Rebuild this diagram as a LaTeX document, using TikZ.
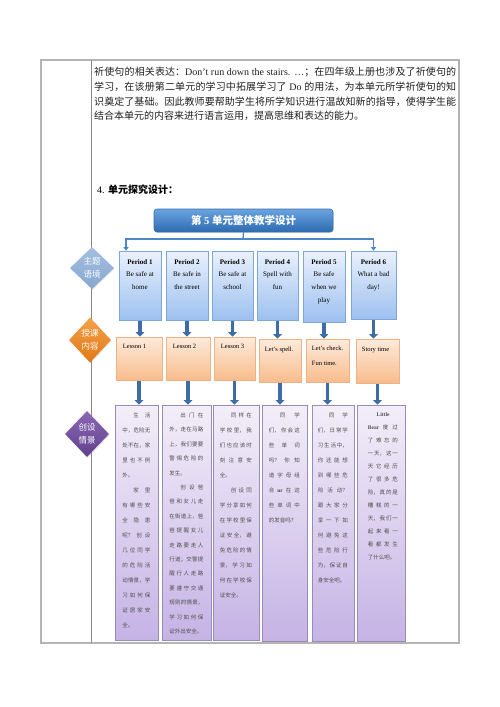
\documentclass[tikz,border=0pt]{standalone}
\usepackage{fontspec}
\setmainfont{Liberation Serif}
\newfontfamily\cjk{Noto Sans CJK SC}
\usetikzlibrary{arrows.meta,shapes.geometric,shadows}
\XeTeXlinebreaklocale "zh"
\XeTeXlinebreakskip=0pt plus 1pt
\setlength\parindent{0pt}
\definecolor{tblc}{HTML}{B4B4B4}
\definecolor{divc}{HTML}{8A8A8A}
\definecolor{tttop}{HTML}{6AA4E0}
\definecolor{ttbot}{HTML}{2D6AB0}
\definecolor{ttedge}{HTML}{3A6EA8}
\definecolor{connc}{HTML}{4A86C8}
\definecolor{ptop}{HTML}{EAF1FC}
\definecolor{pbot}{HTML}{9DC0F0}
\definecolor{pedge}{HTML}{7FA6D6}
\definecolor{ltop}{HTML}{FDEBDC}
\definecolor{lbot}{HTML}{F8BC8C}
\definecolor{ledge}{HTML}{EDB285}
\definecolor{btop}{HTML}{F3EEF9}
\definecolor{bbot}{HTML}{C5B3E5}
\definecolor{bedge}{HTML}{9A8CB8}
\definecolor{arrc}{HTML}{3D6CA6}
\definecolor{dAt}{HTML}{A3BFE0}
\definecolor{dAb}{HTML}{86A7D0}
\definecolor{dBt}{HTML}{F5A24A}
\definecolor{dBb}{HTML}{E07816}
\definecolor{dCt}{HTML}{8A68B6}
\definecolor{dCb}{HTML}{60408E}
\definecolor{btxt}{HTML}{4E4E4E}
\newcommand\zbox[6]{\node[#2, minimum width={#5-#3}, minimum height={#6-#4}] (#1) at ({(#3+#5)/2},{(#4+#6)/2}) {};}
\newcommand\lbk{\linebreak}
\begin{document}
\begin{tikzpicture}[x=1pt,y=-1pt,
  tbl/.style={draw=tblc,line width=1.3pt},
  divline/.style={draw=divc,line width=0.6pt},
  shd/.style={drop shadow={shadow xshift=0.7pt,shadow yshift=-0.9pt,opacity=0.22}},
  titlebox/.style={draw=ttedge,line width=0.6pt,rounded corners=3pt,top color=tttop,bottom color=ttbot,inner sep=0,shd},
  pbox/.style={draw=pedge,line width=0.6pt,top color=ptop,bottom color=pbot,inner sep=0,shd},
  lbox/.style={draw=ledge,line width=0.6pt,top color=ltop,bottom color=lbot,inner sep=0,shd},
  bbox/.style={draw=bedge,line width=0.6pt,top color=btop,bottom color=bbot,inner sep=0,shd},
  ptext/.style={anchor=north,inner sep=0,align=center,font=\fontsize{7}{12.6}\selectfont},
  ltext/.style={anchor=north west,inner sep=0,align=left,font=\fontsize{6.5}{15}\selectfont},
  btext/.style={anchor=north west,inner sep=0,align=justify,text=btxt,font=\cjk\fontsize{5.5}{15}\selectfont},
  blk/.style={draw=arrc,line width=3.6pt,-{Triangle[width=8.5pt,length=4.5pt]},shorten <=1pt},
  conn/.style={draw=connc,line width=1.3pt,-{Triangle[width=5pt,length=3.5pt]}},
  connline/.style={draw=connc,line width=1.3pt},
  dia/.style={diamond,inner sep=0,shd},
  dtext/.style={inner sep=0,align=center,text=white,font=\cjk\fontsize{8.5}{13}\selectfont}
]
\useasboundingbox (0,0) rectangle (500,707);
% table
\draw[tbl] (41,60) rectangle (459,643);
\draw[divline] (91,60) -- (91,643);
% paragraph
\node[anchor=north west,inner sep=0,text width=362pt,align=justify,text=black!88,font=\fontsize{10}{14.7}\selectfont] (para) at (94,67.2)
{{\cjk 祈使句的相关表达：}Don't run down the stairs. …{\cjk ；在四年级上册也涉及了祈使句的}\lbk
{\cjk 学习，在该册第二单元的学习中拓展学习了} Do {\cjk 的用法，为本单元所学祈使句的知}\lbk
{\cjk 识奠定了基础。因此教师要帮助学生将所学知识进行温故知新的指导，使得学生能}\lbk
{\cjk 结合本单元的内容来进行语言运用，提高思维和表达的能力。}};
\node[anchor=base west,inner sep=0,font=\fontsize{10}{12}\selectfont] (head) at (97,193) {4. {\cjk\bfseries 单元探究设计：}};
% title
\zbox{title}{titlebox}{154}{209}{333}{232}
\node[inner sep=0,text=white,font=\fontsize{10.5}{12}\selectfont] (ttext) at (title) {{\cjk\bfseries 第} \textbf{5} {\cjk\bfseries 单元整体教学设计}};
% periods
\zbox{p1}{pbox}{119}{251}{161}{320}
\zbox{p2}{pbox}{166}{251}{208}{320}
\zbox{p3}{pbox}{212}{251}{253}{320}
\zbox{p4}{pbox}{257}{251}{298}{320}
\zbox{p5}{pbox}{303}{251}{345}{322}
\zbox{p6}{pbox}{351}{251}{396}{319}
\node[ptext] (pt1) at ([yshift=-8.5pt]p1.north) {\textbf{Period 1}\\Be safe at\\home};
\node[ptext] (pt2) at ([yshift=-8.5pt]p2.north) {\textbf{Period 2}\\Be safe in\\the street};
\node[ptext] (pt3) at ([yshift=-8.5pt]p3.north) {\textbf{Period 3}\\Be safe at\\school};
\node[ptext] (pt4) at ([yshift=-8.5pt]p4.north) {\textbf{Period 4}\\Spell with\\fun};
\node[ptext] (pt5) at ([yshift=-8.5pt]p5.north) {\textbf{Period 5}\\Be safe\\when we\\play};
\node[ptext] (pt6) at ([yshift=-8.5pt]p6.north) {\textbf{Period 6}\\What a bad\\day!};
% connectors from title
\coordinate (hub) at (243,239);
\draw[connline] (title.south) -- (hub);
\draw[conn] (hub) -| ([xshift=-14pt]p1.north);
\draw[conn] (hub) -| (p6.north);
% lessons
\zbox{l1}{lbox}{116}{337}{162}{380}
\zbox{l2}{lbox}{166}{337}{210}{380}
\zbox{l3}{lbox}{214}{337}{255}{380}
\zbox{l4}{lbox}{259}{339}{301}{382}
\zbox{l5}{lbox}{306}{339}{349}{382}
\zbox{l6}{lbox}{356}{339}{399}{383}
\node[ltext] (lt1) at ([xshift=7pt,yshift=-7.5pt]l1.north west) {Lesson 1};
\node[ltext] (lt2) at ([xshift=7pt,yshift=-7.5pt]l2.north west) {Lesson 2};
\node[ltext] (lt3) at ([xshift=7pt,yshift=-7.5pt]l3.north west) {Lesson 3};
\node[ltext] (lt4) at ([xshift=6pt,yshift=-8.5pt]l4.north west) {Let's spell.};
\node[ltext] (lt5) at ([xshift=6pt,yshift=-7pt]l5.north west) {Let's check.\\Fun time.};
\node[ltext] (lt6) at ([xshift=6pt,yshift=-8.5pt]l6.north west) {Story time};
% purple boxes
\zbox{b1}{bbox}{115}{405}{158}{640}
\zbox{b2}{bbox}{162}{405}{211}{640}
\zbox{b3}{bbox}{213}{405}{259}{640}
\zbox{b4}{bbox}{262}{405}{307}{641}
\zbox{b5}{bbox}{312}{405}{354}{641}
\zbox{b6}{bbox}{357}{405}{405}{641}
\node[btext,text width=28pt] (bt1) at ([xshift=7.5pt,yshift=-8pt]b1.north west)
{\hspace*{2em}生活\lbk
中，危险无\lbk
处不在，家\lbk
里也不例\lbk
外。\par
\hspace*{2em}家里\lbk
有哪些安\lbk
全隐患\lbk
呢？创设\lbk
几位同学\lbk
的危险活\lbk
动情景，学\lbk
习如何保\lbk
证居家安\lbk
全。};
\node[btext,text width=34pt,font=\cjk\fontsize{5.5}{14.4}\selectfont] (bt2) at ([xshift=7.5pt,yshift=-8pt]b2.north west)
{\hspace*{2em}出门在\lbk
外，走在马路\lbk
上，我们要要\lbk
警惕危险的\lbk
发生。\par
\hspace*{2em}创设爸\lbk
爸和女儿走\lbk
在街道上，爸\lbk
爸提醒女儿\lbk
走路要走人\lbk
行道；交警提\lbk
醒行人走路\lbk
要遵守交通\lbk
规则的情景，\lbk
学习如何保\lbk
证外出安全。};
\node[btext,text width=32pt] (bt3) at ([xshift=7pt,yshift=-8pt]b3.north west)
{\hspace*{2em}同样在\lbk
学校里，我\lbk
们也应该时\lbk
刻注意安\lbk
全。\par
\hspace*{2em}创设同\lbk
学分享如何\lbk
在学校里保\lbk
证安全，避\lbk
免危险的情\lbk
景，学习如\lbk
何在学校保\lbk
证安全。};
\node[btext,text width=31pt] (bt4) at ([xshift=7pt,yshift=-8pt]b4.north west)
{\hspace*{2em}同学\lbk
们，你会这\lbk
些单词\lbk
吗？你知\lbk
道字母组\lbk
合 {\rmfamily\bfseries ur} 在这\lbk
些单词中\lbk
的发音吗？};
\node[btext,text width=30pt] (bt5) at ([xshift=6pt,yshift=-8pt]b5.north west)
{\hspace*{2em}同学\lbk
们，日常学\lbk
习生活中，\lbk
你还能想\lbk
到哪些危\lbk
险活动？\lbk
跟大家分\lbk
享一下如\lbk
何避免这\lbk
些危险行\lbk
为，保证自\lbk
身安全吧。};
\node[btext,text width=30pt,font=\cjk\fontsize{5.5}{13}\selectfont] (bt6) at ([xshift=11pt,yshift=-8pt]b6.north west)
{\hspace*{1.6em}{\rmfamily\bfseries Little}\lbk
{\rmfamily\bfseries Bear} 度过\lbk
了难忘的\lbk
一天，这一\lbk
天它经历\lbk
了很多危\lbk
险，真的是\lbk
糟糕的一\lbk
天，我们一\lbk
起来看一\lbk
看都发生\lbk
了什么吧。};
% block arrows
\foreach \i in {1,...,6}{
  \draw[blk] (p\i.south) -- (p\i.south |- l\i.north);
  \draw[blk] (l\i.south) -- (l\i.south |- b\i.north);
}
% diamonds
\node[dia,minimum width=44pt,minimum height=42pt,top color=dAt,bottom color=dAb] (d1) at (92,268) {};
\node[dtext] (d1t) at (d1) {主题\\语境};
\node[dia,minimum width=42pt,minimum height=45pt,top color=dBt,bottom color=dBb] (d2) at (90,340) {};
\node[dtext] (d2t) at (d2) {授课\\内容};
\node[dia,minimum width=44pt,minimum height=46pt,top color=dCt,bottom color=dCb] (d3) at (87,434) {};
\node[dtext] (d3t) at (d3) {创设\\情景};
\end{tikzpicture}
\end{document}
